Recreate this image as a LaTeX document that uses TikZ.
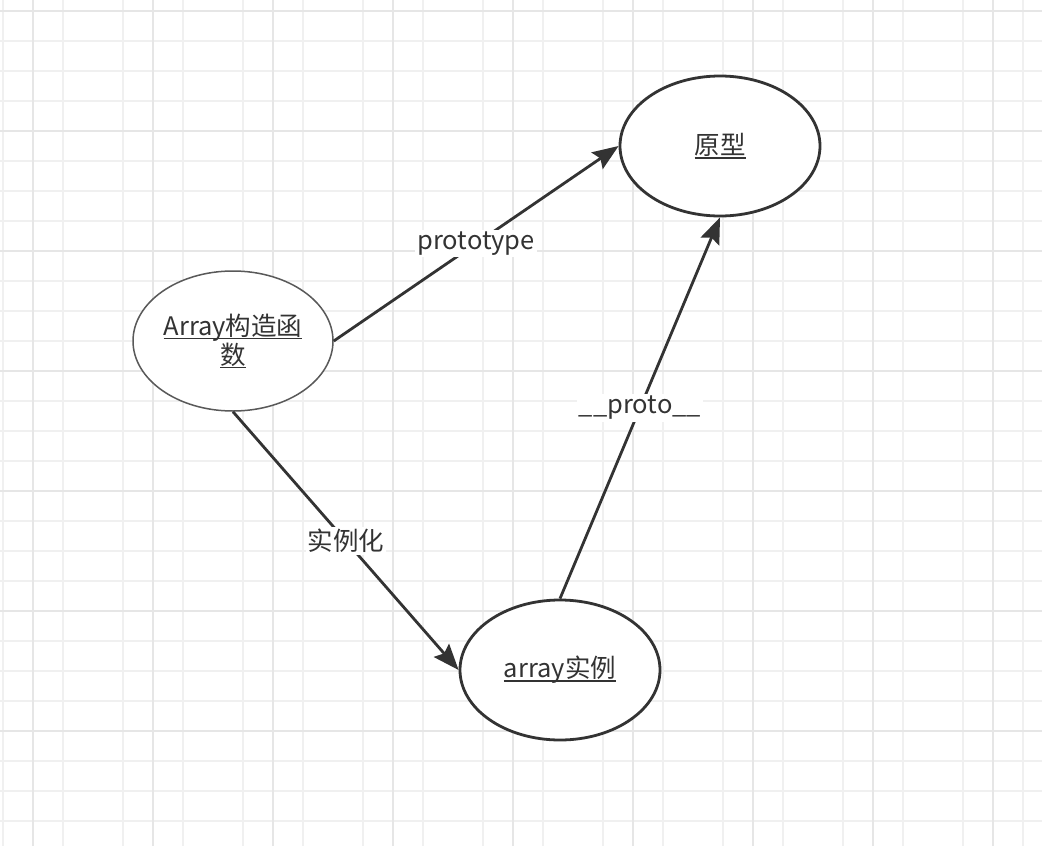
\documentclass[tikz,border=0pt]{standalone}
\usepackage{fontspec}
\setmainfont{Noto Sans CJK SC}
\usetikzlibrary{shapes.geometric,arrows.meta}
\definecolor{gridminor}{HTML}{F0F0F0}
\definecolor{gridmajor}{HTML}{E6E6E6}
\definecolor{ink}{HTML}{333333}
\newcommand{\undertext}[1]{\setbox0\hbox{#1}\rlap{\copy0}\rule[-4pt]{\wd0}{1.4pt}}
\begin{document}
\begin{tikzpicture}
  [x=1pt,y=-1pt,font=\fontsize{25.5}{31}\selectfont,
   every node/.style={ellipse,draw=ink,line width=2.8pt,fill=white,text=ink,
     minimum width=200pt,minimum height=140pt,inner sep=0pt,align=center},
   lbl/.style={rectangle,draw=none,fill=white,minimum width=0pt,minimum height=0pt,inner sep=2pt},
   link/.style={draw=ink,line width=2.8pt,-{Stealth[length=26pt,width=20pt,inset=4pt]}}]
\useasboundingbox (0,0) rectangle (1042,846);
  \fill[white] (0,0) rectangle (1042,846);
  \foreach \x in {3,63,...,1033} \draw[gridminor,line width=1.2pt] (\x,0) -- (\x,846);
  \foreach \y in {11,41,...,846} \draw[gridminor,line width=1.2pt] (0,\y) -- (1042,\y);
  \foreach \x in {33,153,...,1033} \draw[gridmajor,line width=1.6pt] (\x,0) -- (\x,846);
  \foreach \y in {11,131,...,846} \draw[gridmajor,line width=1.6pt] (0,\y) -- (1042,\y);

  \node (proto) at (720,146) {\undertext{原型}};
  \node (ctor) at (233,341) [line width=1.5pt,draw=black!65] {\undertext{Array构造函}\\[-2pt]\undertext{数}};
  \node (inst) at (560,670) {\undertext{array实例}};

  \foreach \from/\to/\txt in {ctor.east/proto.west/prototype, ctor.south/inst.west/实例化, inst.north/proto.south/\_\_proto\_\_}
    \draw[link] (\from) -- node[lbl] {\txt} (\to);
\end{tikzpicture}
\end{document}
